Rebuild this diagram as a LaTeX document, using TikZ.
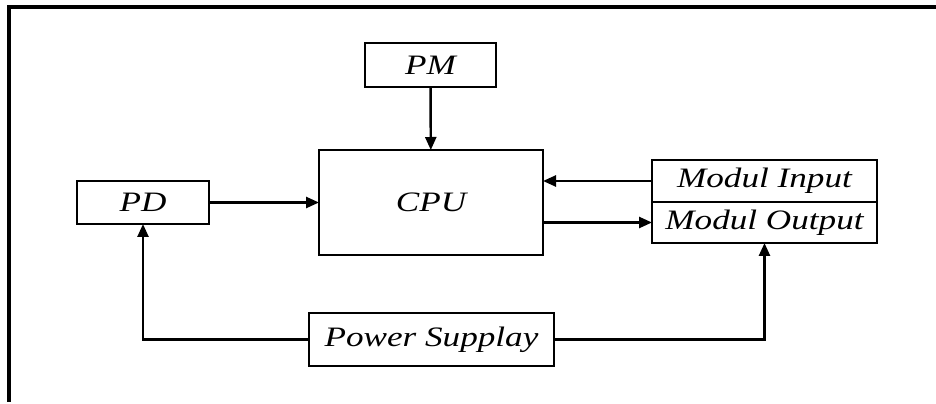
\documentclass[tikz,border=0pt]{standalone}
\usepackage{fontspec}
\usepackage{tikz}
\usetikzlibrary{arrows.meta,positioning,calc}
\newfontfamily\blockfont[FakeStretch=1.25]{Liberation Serif}

\begin{document}
\begin{tikzpicture}[
    block/.style={rectangle, draw=black, line width=1.4pt, align=center, inner sep=0pt, outer sep=0pt, font=\blockfont\itshape\fontsize{16}{19}\selectfont},
    arrow/.style={-{Triangle[length=2.6mm, width=2.2mm]}, line width=1.4pt, draw=black}
]
    \useasboundingbox (0,0) rectangle (18.72,8.08);
    \draw [line width=2pt] (0.18,0.04) -- (0.18,7.94) -- (18.72,7.94);

    \node [block, minimum width=2.62cm, minimum height=0.88cm] (pm) at (8.61,6.78) {PM};
    \node [block, minimum width=4.48cm, minimum height=2.10cm] (cpu) at (8.62,4.03) {CPU};
    \node [block, minimum width=2.64cm, minimum height=0.86cm] (pd) at (2.86,4.03) {PD};
    \node [block, minimum width=4.90cm, minimum height=1.06cm] (ps) at (8.63,1.29) {Power Supplay};
    \node [block, minimum width=4.50cm, minimum height=0.84cm] (min) at (15.29,4.46) {Modul Input};
    \node [block, minimum width=4.50cm, minimum height=0.82cm, below=0pt of min] (mout) {Modul Output};

    \draw [arrow] (pm) -- (cpu);
    \draw [arrow] (pd) -- (cpu);
    \draw [arrow] (min.west) -- (min.west -| cpu.east);
    \draw [arrow] (mout.west -| cpu.east) -- (mout.west);
    \draw [arrow] (ps.west) -| (pd.south);
    \draw [arrow] (ps.east) -| (mout.south);
\end{tikzpicture}
\end{document}
